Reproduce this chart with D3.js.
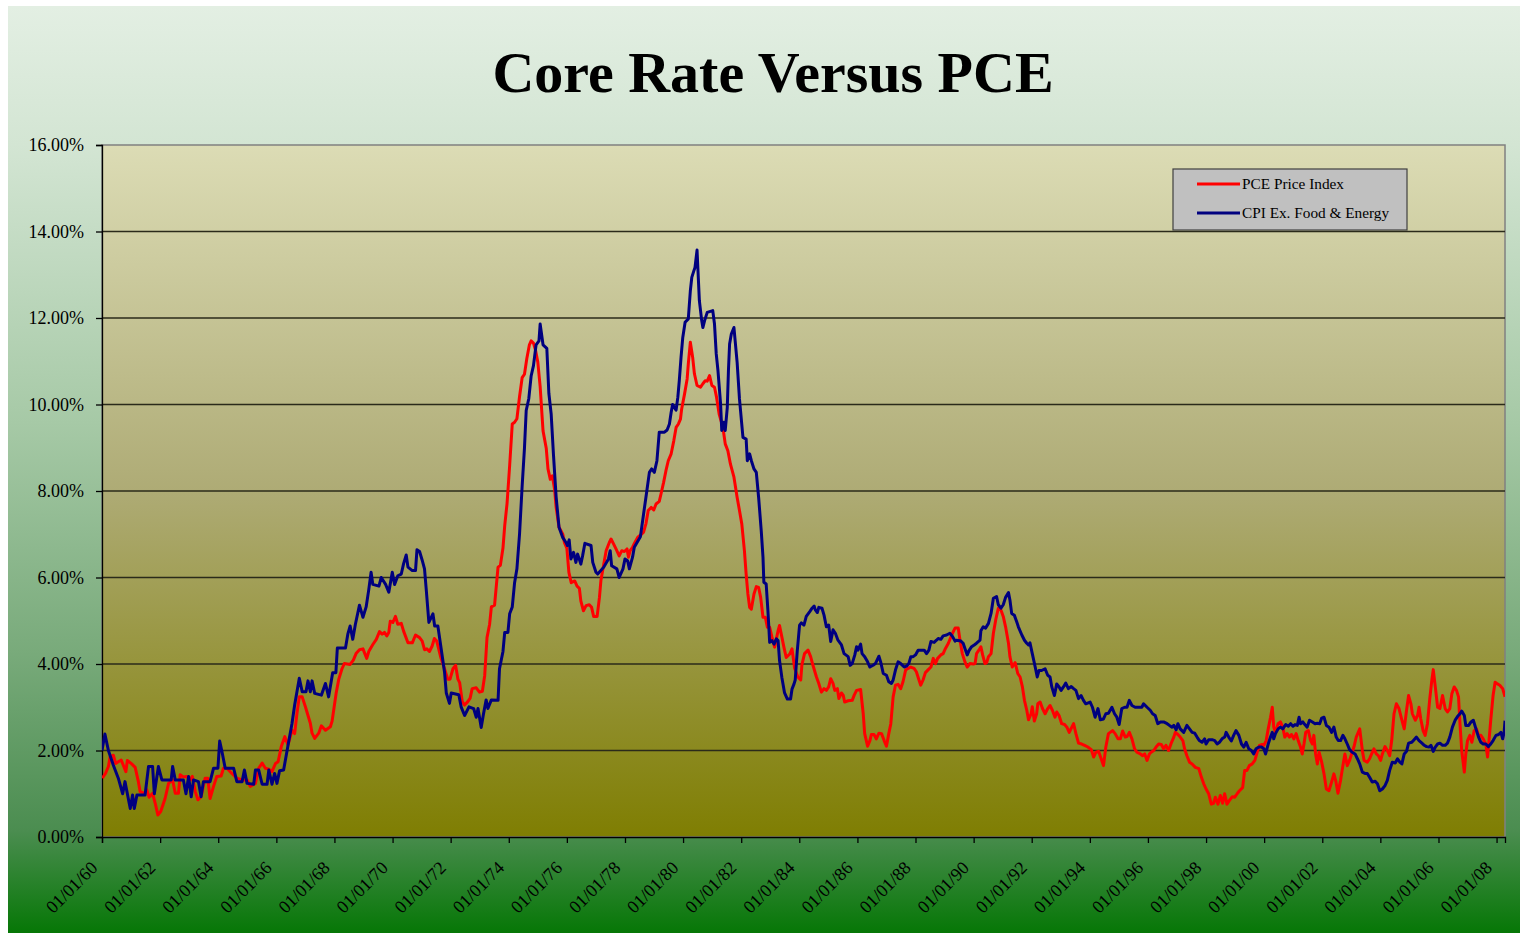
<!DOCTYPE html>
<html>
<head>
<meta charset="utf-8">
<script src="https://cdn.jsdelivr.net/npm/d3@7"></script>
<style>
  html, body { margin: 0; padding: 0; background: #ffffff; }
  svg { display: block; }
  text { font-family: "Liberation Serif", "Times New Roman", serif; fill: #000; }
</style>
</head>
<body>
<svg id="chart" width="1520" height="936"></svg>
<script>
// ---------------- DATA ----------------
const chartTitle = "Core Rate Versus PCE";
const seriesNames = ["PCE Price Index", "CPI Ex. Food & Energy"];
const seriesColors = ["#ff0000", "#000080"];
const yTickValues = [0, 2, 4, 6, 8, 10, 12, 14, 16];
const xTickYears = d3.range(1960, 2009, 2);

// [decimal year, rate %]
const pcePoints = [
[1960.01,1.36],[1960.12,1.47],[1960.22,1.63],[1960.28,1.86],[1960.39,1.89],[1960.47,1.70],[1960.56,1.74],[1960.66,1.78],
[1960.82,1.51],[1960.87,1.77],[1961.02,1.69],[1961.14,1.61],[1961.25,1.28],[1961.31,1.05],[1961.46,1.01],[1961.54,1.09],
[1961.62,0.92],[1961.74,1.01],[1961.83,0.78],[1961.92,0.51],[1962.02,0.59],[1962.17,0.89],[1962.29,1.24],[1962.43,1.32],
[1962.52,1.01],[1962.63,1.01],[1962.69,1.44],[1962.80,1.39],[1962.92,1.40],[1963.03,1.32],[1963.11,1.40],[1963.21,1.05],
[1963.30,0.86],[1963.41,0.93],[1963.55,1.36],[1963.64,1.36],[1963.72,0.89],[1963.84,1.17],[1963.95,1.40],[1964.10,1.41],
[1964.18,1.59],[1964.30,1.59],[1964.47,1.47],[1964.64,1.36],[1964.82,1.32],[1964.99,1.32],[1965.10,1.17],[1965.28,1.24],
[1965.39,1.59],[1965.51,1.71],[1965.62,1.59],[1965.74,1.57],[1965.85,1.51],[1965.97,1.70],[1966.06,1.74],[1966.17,2.09],
[1966.29,2.32],[1966.40,2.13],[1966.54,2.47],[1966.63,2.39],[1966.71,2.86],[1966.79,3.24],[1966.89,3.24],[1967.00,3.01],
[1967.17,2.63],[1967.23,2.40],[1967.32,2.28],[1967.46,2.40],[1967.55,2.57],[1967.69,2.47],[1967.86,2.55],[1967.92,2.68],
[1968.06,3.33],[1968.15,3.65],[1968.26,3.89],[1968.34,4.01],[1968.54,3.99],[1968.65,4.09],[1968.75,4.25],[1968.86,4.33],
[1968.98,4.35],[1969.11,4.13],[1969.18,4.29],[1969.32,4.45],[1969.44,4.57],[1969.55,4.75],[1969.64,4.69],[1969.72,4.73],
[1969.80,4.65],[1969.87,4.73],[1969.92,4.99],[1970.01,4.96],[1970.10,5.10],[1970.18,4.92],[1970.30,4.94],[1970.38,4.76],
[1970.53,4.49],[1970.68,4.49],[1970.79,4.67],[1970.93,4.61],[1971.02,4.53],[1971.10,4.33],[1971.18,4.35],[1971.27,4.29],
[1971.36,4.41],[1971.44,4.59],[1971.52,4.53],[1971.67,4.13],[1971.79,3.89],[1971.90,3.65],[1971.98,3.65],[1972.08,3.89],
[1972.17,3.97],[1972.25,3.65],[1972.31,3.57],[1972.40,3.13],[1972.48,3.05],[1972.59,3.13],[1972.67,3.21],[1972.74,3.43],
[1972.88,3.45],[1972.99,3.35],[1973.09,3.37],[1973.17,3.73],[1973.25,4.61],[1973.34,4.92],[1973.40,5.32],[1973.51,5.36],
[1973.63,6.24],[1973.71,6.28],[1973.80,6.68],[1973.86,7.20],[1973.94,7.71],[1974.03,8.59],[1974.12,9.55],[1974.20,9.59],
[1974.28,9.67],[1974.37,10.18],[1974.46,10.62],[1974.54,10.70],[1974.62,11.06],[1974.71,11.38],[1974.77,11.47],[1974.85,11.42],
[1974.92,11.26],[1975.00,10.98],[1975.08,10.42],[1975.18,9.39],[1975.29,8.99],[1975.35,8.51],[1975.43,8.27],[1975.50,8.35],
[1975.58,8.03],[1975.63,7.63],[1975.73,7.16],[1975.86,7.00],[1975.92,6.80],[1976.00,6.68],[1976.07,6.12],[1976.15,5.88],
[1976.27,5.92],[1976.35,5.80],[1976.43,5.75],[1976.48,5.46],[1976.57,5.23],[1976.66,5.35],[1976.77,5.37],[1976.85,5.31],
[1976.92,5.10],[1977.04,5.10],[1977.12,5.54],[1977.17,5.93],[1977.27,6.31],[1977.35,6.62],[1977.46,6.81],[1977.52,6.89],
[1977.61,6.77],[1977.69,6.66],[1977.80,6.50],[1977.89,6.62],[1977.98,6.60],[1978.07,6.66],[1978.12,6.47],[1978.18,6.62],
[1978.26,6.70],[1978.34,6.81],[1978.44,6.93],[1978.55,6.99],[1978.64,7.05],[1978.72,7.24],[1978.80,7.55],[1978.90,7.62],
[1978.99,7.56],[1979.07,7.70],[1979.18,7.76],[1979.24,7.93],[1979.33,8.20],[1979.41,8.47],[1979.49,8.70],[1979.59,8.86],
[1979.68,9.16],[1979.76,9.47],[1979.84,9.55],[1979.91,9.66],[1979.95,9.89],[1980.05,10.24],[1980.14,10.59],[1980.18,10.94],
[1980.25,11.44],[1980.33,11.09],[1980.39,10.71],[1980.48,10.44],[1980.60,10.40],[1980.68,10.48],[1980.76,10.55],[1980.83,10.54],
[1980.91,10.67],[1980.99,10.44],[1981.08,10.40],[1981.15,10.17],[1981.24,9.78],[1981.37,9.47],[1981.45,9.09],[1981.54,8.93],
[1981.63,8.62],[1981.75,8.32],[1981.86,7.85],[1981.94,7.55],[1982.02,7.24],[1982.11,6.62],[1982.17,6.08],[1982.23,5.62],
[1982.29,5.31],[1982.35,5.27],[1982.44,5.62],[1982.52,5.79],[1982.60,5.77],[1982.67,5.54],[1982.75,5.08],[1982.83,5.08],
[1982.90,4.85],[1982.98,4.85],[1983.06,4.62],[1983.15,4.39],[1983.27,4.77],[1983.32,4.89],[1983.38,4.69],[1983.47,4.39],
[1983.55,4.15],[1983.67,4.23],[1983.75,4.35],[1983.84,3.90],[1983.95,3.70],[1984.05,3.63],[1984.09,3.98],[1984.18,4.24],
[1984.30,4.32],[1984.39,4.17],[1984.47,3.97],[1984.59,3.70],[1984.67,3.55],[1984.76,3.35],[1984.85,3.43],[1984.93,3.39],
[1985.01,3.47],[1985.08,3.66],[1985.16,3.55],[1985.22,3.39],[1985.31,3.43],[1985.36,3.20],[1985.45,3.33],[1985.51,3.28],
[1985.56,3.12],[1985.68,3.15],[1985.82,3.16],[1985.89,3.28],[1985.97,3.39],[1986.11,3.41],[1986.20,2.85],[1986.25,2.39],
[1986.35,2.10],[1986.43,2.23],[1986.48,2.37],[1986.57,2.37],[1986.65,2.27],[1986.74,2.40],[1986.83,2.39],[1986.92,2.23],
[1987.00,2.10],[1987.08,2.39],[1987.15,2.62],[1987.23,3.24],[1987.31,3.51],[1987.40,3.53],[1987.49,3.43],[1987.57,3.59],
[1987.66,3.86],[1987.75,3.90],[1987.84,3.93],[1987.95,3.90],[1988.03,3.82],[1988.12,3.63],[1988.18,3.51],[1988.26,3.63],
[1988.34,3.80],[1988.44,3.87],[1988.53,3.93],[1988.61,4.13],[1988.69,4.01],[1988.76,4.13],[1988.87,4.21],[1988.95,4.24],
[1989.03,4.36],[1989.13,4.48],[1989.22,4.63],[1989.30,4.75],[1989.36,4.83],[1989.47,4.83],[1989.53,4.55],[1989.61,4.24],
[1989.70,4.05],[1989.78,3.93],[1989.87,4.01],[1989.99,4.00],[1990.05,4.01],[1990.10,4.24],[1990.18,4.32],[1990.25,4.40],
[1990.31,4.21],[1990.39,4.01],[1990.45,4.03],[1990.51,4.17],[1990.60,4.24],[1990.68,4.71],[1990.76,5.02],[1990.85,5.29],
[1990.94,5.25],[1991.02,5.10],[1991.10,4.86],[1991.20,4.48],[1991.25,4.17],[1991.33,3.93],[1991.43,4.03],[1991.52,3.78],
[1991.60,3.70],[1991.68,3.47],[1991.75,3.16],[1991.83,2.93],[1991.89,2.71],[1991.98,2.85],[1992.02,3.01],[1992.09,2.68],
[1992.17,2.85],[1992.21,3.08],[1992.29,3.12],[1992.37,2.97],[1992.46,2.85],[1992.55,2.97],[1992.63,3.04],[1992.71,2.93],
[1992.80,2.77],[1992.86,2.89],[1992.94,2.81],[1993.03,2.62],[1993.13,2.60],[1993.21,2.54],[1993.29,2.42],[1993.38,2.54],
[1993.44,2.62],[1993.52,2.39],[1993.61,2.17],[1993.72,2.15],[1993.82,2.12],[1993.93,2.08],[1994.05,2.02],[1994.13,1.85],
[1994.21,1.96],[1994.30,1.98],[1994.39,1.81],[1994.47,1.65],[1994.55,2.08],[1994.64,2.39],[1994.70,2.42],[1994.78,2.46],
[1994.87,2.39],[1994.97,2.27],[1995.05,2.27],[1995.13,2.45],[1995.22,2.31],[1995.28,2.32],[1995.36,2.42],[1995.45,2.27],
[1995.54,2.04],[1995.62,1.96],[1995.74,1.92],[1995.82,1.88],[1995.89,1.92],[1995.97,1.77],[1996.05,1.92],[1996.11,1.96],
[1996.20,2.00],[1996.28,2.08],[1996.37,2.15],[1996.46,2.14],[1996.54,2.04],[1996.62,2.12],[1996.71,2.00],[1996.80,2.17],
[1996.89,2.31],[1996.94,2.42],[1997.03,2.37],[1997.11,2.31],[1997.20,2.23],[1997.26,2.04],[1997.34,1.88],[1997.43,1.73],
[1997.52,1.69],[1997.63,1.61],[1997.75,1.58],[1997.84,1.38],[1997.92,1.23],[1998.00,1.11],[1998.09,1.00],[1998.18,0.76],
[1998.26,0.78],[1998.32,0.92],[1998.41,0.76],[1998.49,0.96],[1998.57,0.78],[1998.64,1.00],[1998.72,0.76],[1998.80,0.84],
[1998.90,0.93],[1998.99,0.92],[1999.07,1.00],[1999.15,1.07],[1999.26,1.14],[1999.33,1.54],[1999.41,1.54],[1999.49,1.65],
[1999.59,1.69],[1999.68,1.77],[1999.76,1.96],[1999.84,2.12],[1999.93,2.14],[1999.99,2.12],[2000.07,2.23],[2000.14,2.50],
[2000.22,2.77],[2000.28,3.00],[2000.33,2.54],[2000.39,2.42],[2000.48,2.62],[2000.56,2.66],[2000.64,2.54],[2000.71,2.31],
[2000.79,2.39],[2000.87,2.31],[2000.94,2.37],[2001.02,2.27],[2001.10,2.39],[2001.17,2.23],[2001.25,2.08],[2001.31,1.92],
[2001.37,2.15],[2001.43,2.42],[2001.52,2.46],[2001.60,2.23],[2001.66,2.15],[2001.71,2.35],[2001.77,1.92],[2001.83,1.69],
[2001.89,1.96],[2001.98,1.73],[2002.06,1.46],[2002.14,1.11],[2002.23,1.07],[2002.32,1.27],[2002.40,1.46],[2002.46,1.31],
[2002.54,1.01],[2002.63,1.31],[2002.71,1.65],[2002.78,1.92],[2002.86,1.65],[2002.94,1.77],[2003.01,1.92],[2003.09,2.08],
[2003.17,2.31],[2003.29,2.50],[2003.38,2.00],[2003.44,1.77],[2003.55,1.73],[2003.63,1.81],[2003.70,1.92],[2003.78,2.04],
[2003.86,1.92],[2003.93,1.88],[2004.01,1.77],[2004.07,1.92],[2004.16,2.09],[2004.24,2.00],[2004.32,1.88],[2004.39,2.23],
[2004.47,2.85],[2004.55,3.08],[2004.64,2.97],[2004.74,2.70],[2004.82,2.50],[2004.90,2.93],[2004.97,3.27],[2005.05,3.08],
[2005.10,2.85],[2005.20,2.70],[2005.28,2.81],[2005.33,3.00],[2005.39,2.73],[2005.47,2.46],[2005.54,2.35],[2005.62,2.62],
[2005.70,3.20],[2005.77,3.62],[2005.82,3.87],[2005.89,3.47],[2005.97,3.00],[2006.05,2.97],[2006.14,3.27],[2006.23,2.97],
[2006.31,2.89],[2006.39,2.97],[2006.46,3.31],[2006.54,3.47],[2006.62,3.39],[2006.69,3.24],[2006.74,2.62],[2006.80,2.00],
[2006.89,1.50],[2006.94,1.92],[2007.00,2.23],[2007.08,2.35],[2007.15,2.19],[2007.23,2.46],[2007.31,2.50],[2007.38,2.35],
[2007.46,2.35],[2007.54,2.27],[2007.63,2.15],[2007.69,1.85],[2007.75,2.31],[2007.80,2.70],[2007.88,3.27],[2007.95,3.58],
[2008.03,3.54],[2008.11,3.51],[2008.21,3.43],[2008.29,3.24]
];

const cpiPoints = [
[1960.00,2.00],[1960.10,2.38],[1960.22,2.00],[1960.39,1.66],[1960.56,1.36],[1960.71,1.00],[1960.79,1.28],[1960.97,0.66],
[1961.05,0.97],[1961.11,0.66],[1961.20,0.97],[1961.48,0.97],[1961.60,1.63],[1961.74,1.63],[1961.80,1.00],[1961.94,1.63],
[1962.06,1.32],[1962.38,1.32],[1962.43,1.63],[1962.52,1.32],[1962.80,1.32],[1962.89,1.00],[1962.98,1.40],[1963.07,0.93],
[1963.15,1.32],[1963.32,1.28],[1963.41,0.93],[1963.49,1.28],[1963.72,1.28],[1963.84,1.59],[1963.99,1.59],[1964.05,2.22],
[1964.13,1.97],[1964.24,1.59],[1964.53,1.59],[1964.64,1.28],[1964.82,1.28],[1964.90,1.55],[1964.99,1.24],[1965.22,1.22],
[1965.28,1.55],[1965.39,1.55],[1965.51,1.22],[1965.68,1.22],[1965.74,1.55],[1965.85,1.22],[1965.94,1.47],[1966.02,1.24],
[1966.11,1.53],[1966.25,1.55],[1966.37,2.00],[1966.54,2.63],[1966.63,3.05],[1966.79,3.67],[1966.89,3.36],[1967.02,3.36],
[1967.09,3.61],[1967.17,3.36],[1967.23,3.61],[1967.32,3.32],[1967.55,3.28],[1967.69,3.55],[1967.80,3.24],[1967.94,3.80],
[1968.05,3.80],[1968.10,4.37],[1968.38,4.37],[1968.46,4.69],[1968.54,4.88],[1968.63,4.57],[1968.72,4.92],[1968.86,5.36],
[1968.98,5.08],[1969.09,5.32],[1969.18,5.72],[1969.26,6.12],[1969.32,5.84],[1969.53,5.80],[1969.61,6.00],[1969.76,5.84],
[1969.87,5.66],[1969.99,6.12],[1970.07,5.84],[1970.18,6.04],[1970.30,6.08],[1970.38,6.32],[1970.47,6.52],[1970.53,6.24],
[1970.68,6.16],[1970.79,6.16],[1970.84,6.64],[1970.93,6.60],[1971.02,6.40],[1971.10,6.20],[1971.16,5.72],[1971.25,4.96],
[1971.39,5.16],[1971.45,4.88],[1971.56,4.88],[1971.67,4.37],[1971.79,3.81],[1971.85,3.33],[1971.96,3.09],[1972.02,3.33],
[1972.28,3.29],[1972.36,3.01],[1972.48,2.81],[1972.63,3.01],[1972.79,2.97],[1972.88,2.77],[1972.94,2.97],[1973.05,2.53],
[1973.13,2.85],[1973.22,3.17],[1973.28,2.97],[1973.40,3.17],[1973.63,3.16],[1973.68,3.89],[1973.80,4.29],[1973.86,4.73],
[1973.97,4.73],[1974.03,5.16],[1974.12,5.32],[1974.20,5.88],[1974.28,6.20],[1974.37,7.00],[1974.46,8.11],[1974.54,8.99],
[1974.60,9.86],[1974.69,10.14],[1974.77,10.66],[1974.85,10.90],[1974.94,11.38],[1975.04,11.47],[1975.08,11.86],[1975.18,11.38],
[1975.31,11.30],[1975.38,10.26],[1975.46,9.78],[1975.54,8.83],[1975.63,7.87],[1975.73,7.16],[1975.86,6.92],[1975.97,6.81],
[1976.02,6.74],[1976.08,6.87],[1976.14,6.43],[1976.23,6.58],[1976.31,6.35],[1976.37,6.54],[1976.48,6.31],[1976.54,6.50],
[1976.62,6.79],[1976.83,6.74],[1976.89,6.35],[1977.00,6.12],[1977.06,6.08],[1977.27,6.24],[1977.43,6.43],[1977.49,6.62],
[1977.54,6.27],[1977.72,6.20],[1977.80,6.00],[1977.93,6.20],[1978.00,6.43],[1978.09,6.39],[1978.15,6.20],[1978.26,6.47],
[1978.32,6.70],[1978.53,6.94],[1978.64,7.47],[1978.72,7.85],[1978.84,8.43],[1978.92,8.51],[1979.01,8.43],[1979.10,8.70],
[1979.18,9.36],[1979.36,9.36],[1979.45,9.41],[1979.53,9.55],[1979.59,9.82],[1979.64,10.00],[1979.76,9.87],[1979.82,10.17],
[1979.87,10.55],[1979.93,11.09],[1979.99,11.55],[1980.07,11.90],[1980.18,11.98],[1980.25,12.63],[1980.30,12.94],[1980.37,13.09],
[1980.41,13.17],[1980.48,13.57],[1980.56,12.40],[1980.64,11.94],[1980.68,11.78],[1980.74,11.94],[1980.83,12.13],[1981.02,12.17],
[1981.08,11.86],[1981.14,11.17],[1981.20,10.78],[1981.29,10.01],[1981.33,9.40],[1981.40,9.59],[1981.45,9.40],[1981.52,9.93],
[1981.56,10.78],[1981.60,11.40],[1981.66,11.63],[1981.75,11.78],[1981.79,11.48],[1981.86,10.97],[1981.94,10.13],[1982.06,9.24],
[1982.17,9.20],[1982.21,8.70],[1982.29,8.86],[1982.35,8.70],[1982.44,8.51],[1982.52,8.43],[1982.60,7.85],[1982.69,7.08],
[1982.75,6.47],[1982.78,5.89],[1982.86,5.85],[1982.92,5.23],[1982.98,4.50],[1983.06,4.54],[1983.13,4.46],[1983.21,4.58],
[1983.27,4.54],[1983.32,4.08],[1983.40,3.69],[1983.49,3.34],[1983.59,3.19],[1983.70,3.19],[1983.75,3.42],[1983.82,3.54],
[1983.86,3.63],[1983.93,4.30],[1984.01,4.90],[1984.07,4.95],[1984.16,4.90],[1984.24,5.10],[1984.36,5.21],[1984.44,5.29],
[1984.51,5.34],[1984.55,5.25],[1984.62,5.19],[1984.67,5.31],[1984.78,5.29],[1984.85,5.13],[1984.93,4.86],[1985.01,4.90],
[1985.08,4.52],[1985.16,4.79],[1985.24,4.71],[1985.33,4.55],[1985.45,4.44],[1985.54,4.24],[1985.60,4.21],[1985.68,4.17],
[1985.75,3.97],[1985.82,4.01],[1985.91,4.21],[1985.97,4.40],[1986.02,4.32],[1986.11,4.46],[1986.16,4.24],[1986.25,4.17],
[1986.35,4.05],[1986.43,3.93],[1986.54,3.97],[1986.62,4.01],[1986.74,4.18],[1986.80,4.05],[1986.89,3.78],[1987.00,3.74],
[1987.08,3.59],[1987.17,3.55],[1987.23,3.63],[1987.31,3.86],[1987.40,4.05],[1987.49,4.01],[1987.61,3.93],[1987.69,3.95],
[1987.77,4.01],[1987.84,4.17],[1987.92,4.17],[1988.00,4.21],[1988.09,4.32],[1988.21,4.32],[1988.30,4.32],[1988.38,4.24],
[1988.46,4.32],[1988.53,4.52],[1988.64,4.50],[1988.72,4.55],[1988.78,4.59],[1988.87,4.57],[1988.95,4.65],[1989.07,4.67],
[1989.18,4.71],[1989.26,4.65],[1989.36,4.53],[1989.41,4.55],[1989.56,4.53],[1989.64,4.48],[1989.70,4.36],[1989.78,4.21],
[1989.84,4.31],[1989.93,4.40],[1990.02,4.44],[1990.10,4.48],[1990.22,4.55],[1990.25,4.77],[1990.33,4.86],[1990.41,4.83],
[1990.51,4.94],[1990.60,5.17],[1990.68,5.52],[1990.79,5.56],[1990.85,5.37],[1990.94,5.29],[1991.02,5.37],[1991.10,5.54],
[1991.20,5.65],[1991.25,5.48],[1991.31,5.17],[1991.40,5.13],[1991.48,4.98],[1991.54,4.86],[1991.66,4.67],[1991.75,4.55],
[1991.83,4.48],[1991.89,4.44],[1991.94,4.49],[1992.02,4.24],[1992.12,3.93],[1992.19,3.70],[1992.25,3.85],[1992.34,3.85],
[1992.46,3.89],[1992.55,3.74],[1992.63,3.70],[1992.69,3.47],[1992.78,3.27],[1992.86,3.54],[1992.94,3.47],[1993.01,3.39],
[1993.09,3.47],[1993.17,3.56],[1993.26,3.43],[1993.36,3.48],[1993.44,3.43],[1993.52,3.39],[1993.61,3.20],[1993.70,3.27],
[1993.78,3.16],[1993.86,3.08],[1994.01,3.12],[1994.09,3.00],[1994.18,2.77],[1994.28,2.97],[1994.36,2.71],[1994.47,2.73],
[1994.55,2.85],[1994.64,2.86],[1994.76,3.00],[1994.85,2.85],[1994.93,2.77],[1995.01,2.60],[1995.10,2.97],[1995.20,3.00],
[1995.28,3.00],[1995.36,3.16],[1995.45,3.04],[1995.56,3.00],[1995.68,3.00],[1995.79,3.00],[1995.85,3.08],[1995.97,3.00],
[1996.08,2.93],[1996.16,2.85],[1996.25,2.81],[1996.34,2.62],[1996.43,2.66],[1996.54,2.66],[1996.66,2.62],[1996.74,2.58],
[1996.83,2.54],[1996.89,2.58],[1996.97,2.48],[1997.03,2.62],[1997.11,2.50],[1997.23,2.42],[1997.34,2.58],[1997.43,2.50],
[1997.52,2.42],[1997.61,2.40],[1997.69,2.31],[1997.77,2.23],[1997.86,2.19],[1997.95,2.27],[1998.00,2.15],[1998.09,2.25],
[1998.21,2.25],[1998.30,2.23],[1998.38,2.15],[1998.46,2.19],[1998.55,2.27],[1998.64,2.31],[1998.69,2.42],[1998.78,2.31],
[1998.87,2.22],[1998.95,2.35],[1999.03,2.46],[1999.13,2.35],[1999.22,2.15],[1999.30,2.08],[1999.38,2.19],[1999.47,2.04],
[1999.56,2.00],[1999.64,1.92],[1999.72,2.04],[1999.82,2.08],[1999.91,2.08],[1999.99,2.04],[2000.05,1.92],[2000.14,2.15],
[2000.22,2.31],[2000.28,2.42],[2000.33,2.27],[2000.39,2.39],[2000.48,2.50],[2000.56,2.54],[2000.64,2.50],[2000.74,2.60],
[2000.83,2.56],[2000.91,2.62],[2000.99,2.56],[2001.06,2.60],[2001.14,2.58],[2001.20,2.77],[2001.25,2.62],[2001.33,2.66],
[2001.40,2.60],[2001.48,2.54],[2001.56,2.70],[2001.66,2.66],[2001.75,2.62],[2001.83,2.63],[2001.91,2.62],[2001.98,2.75],
[2002.06,2.77],[2002.14,2.58],[2002.23,2.54],[2002.32,2.42],[2002.40,2.54],[2002.48,2.31],[2002.55,2.23],[2002.63,2.23],
[2002.71,2.35],[2002.78,2.27],[2002.86,2.15],[2002.94,2.02],[2003.03,1.96],[2003.13,1.92],[2003.21,1.81],[2003.29,1.69],
[2003.38,1.50],[2003.47,1.47],[2003.55,1.47],[2003.63,1.38],[2003.72,1.27],[2003.82,1.29],[2003.90,1.23],[2003.98,1.07],
[2004.07,1.11],[2004.16,1.19],[2004.24,1.31],[2004.32,1.54],[2004.41,1.73],[2004.51,1.71],[2004.59,1.81],[2004.67,1.73],
[2004.74,1.69],[2004.82,1.92],[2004.90,1.98],[2004.97,2.17],[2005.08,2.19],[2005.16,2.25],[2005.24,2.31],[2005.33,2.23],
[2005.43,2.17],[2005.51,2.12],[2005.59,2.09],[2005.68,2.08],[2005.74,2.12],[2005.82,1.98],[2005.89,2.08],[2005.97,2.15],
[2006.05,2.17],[2006.14,2.12],[2006.23,2.12],[2006.31,2.17],[2006.39,2.31],[2006.48,2.54],[2006.58,2.71],[2006.66,2.79],
[2006.74,2.85],[2006.80,2.91],[2006.89,2.81],[2006.94,2.58],[2007.04,2.58],[2007.12,2.66],[2007.20,2.70],[2007.29,2.50],
[2007.38,2.31],[2007.46,2.19],[2007.54,2.15],[2007.63,2.15],[2007.72,2.09],[2007.80,2.15],[2007.88,2.23],[2007.98,2.35],
[2008.07,2.37],[2008.15,2.42],[2008.21,2.27],[2008.26,2.42],[2008.29,2.69]
];

// ---------------- CHART ----------------
const W = 1520, H = 936;
const plot = { left: 102, right: 1505, top: 145, bottom: 837 };

function yearToDate(y) {
  const yr = Math.floor(y);
  const s = Date.UTC(yr, 0, 1), e = Date.UTC(yr + 1, 0, 1);
  return new Date(s + (y - yr) * (e - s));
}

const svg = d3.select("#chart");
const defs = svg.append("defs");

const bgGrad = defs.append("linearGradient").attr("id", "bgGrad")
  .attr("x1", 0).attr("y1", 0).attr("x2", 0).attr("y2", 1);
[[0, "#e3efe3"], [0.15, "#d3e5d3"], [0.45, "#a6c9a6"], [0.7, "#78aa7a"], [0.89, "#4b8d50"], [1, "#067706"]]
  .forEach(([o, c]) => bgGrad.append("stop").attr("offset", o).attr("stop-color", c));

const plotGrad = defs.append("linearGradient").attr("id", "plotGrad")
  .attr("x1", 0).attr("y1", 0).attr("x2", 0).attr("y2", 1);
[[0, "#dcdcb5"], [0.5, "#aeab75"], [1, "#7f7e02"]]
  .forEach(([o, c]) => plotGrad.append("stop").attr("offset", o).attr("stop-color", c));

defs.append("clipPath").attr("id", "plotClip").append("rect")
  .attr("x", plot.left).attr("y", plot.top)
  .attr("width", plot.right - plot.left).attr("height", plot.bottom - plot.top);

svg.append("rect").attr("x", 8).attr("y", 6).attr("width", W - 8).attr("height", H - 9)
  .attr("fill", "url(#bgGrad)");

const x = d3.scaleUtc()
  .domain([yearToDate(1960), yearToDate(2008.29)])
  .range([plot.left, plot.right]);
const y = d3.scaleLinear().domain([0, 16]).range([plot.bottom, plot.top]);

// plot area
svg.append("rect").attr("x", plot.left).attr("y", plot.top)
  .attr("width", plot.right - plot.left).attr("height", plot.bottom - plot.top)
  .attr("fill", "url(#plotGrad)").attr("stroke", "#808080").attr("stroke-width", 1.5);

// gridlines
svg.append("g").selectAll("line").data(yTickValues.filter(v => v > 0 && v < 16)).join("line")
  .attr("x1", plot.left).attr("x2", plot.right)
  .attr("y1", d => y(d)).attr("y2", d => y(d))
  .attr("stroke", "#2a2a1a").attr("stroke-width", 1.3);

// Y axis
const yAxis = d3.axisLeft(y).tickValues(yTickValues).tickSize(6).tickPadding(12)
  .tickFormat(d => d.toFixed(2) + "%");
const gy = svg.append("g").attr("transform", `translate(${plot.left},0)`).call(yAxis);
gy.select(".domain").attr("stroke", "#000").attr("stroke-width", 1.3);
gy.selectAll(".tick line").attr("stroke", "#000").attr("stroke-width", 1.3);
gy.selectAll(".tick text").attr("font-size", 18).attr("fill", "#000")
  .style("font-family", '"Liberation Serif", "Times New Roman", serif');

// X axis
const fmt = d3.utcFormat("%m/%d/%y");
const xAxis = d3.axisBottom(x).tickValues(xTickYears.map(yearToDate)).tickSize(6).tickFormat(fmt);
const gx = svg.append("g").attr("transform", `translate(0,${plot.bottom})`).call(xAxis);
gx.select(".domain").attr("stroke", "#000").attr("stroke-width", 1.3);
gx.selectAll(".tick line").attr("stroke", "#000").attr("stroke-width", 1.3);
gx.selectAll(".tick text")
  .attr("font-size", 18).attr("fill", "#000")
  .style("font-family", '"Liberation Serif", "Times New Roman", serif')
  .attr("text-anchor", "end")
  .attr("dy", null).attr("y", 0)
  .attr("transform", "translate(-4,32) rotate(-45)");

// lines
const line = d3.line()
  .x(d => x(yearToDate(d[0])))
  .y(d => y(d[1]))
  .curve(d3.curveLinear);

const lines = svg.append("g").attr("clip-path", "url(#plotClip)");
lines.append("path").datum(pcePoints)
  .attr("fill", "none").attr("stroke", seriesColors[0]).attr("stroke-width", 3)
  .attr("stroke-linejoin", "round").attr("d", line);
lines.append("path").datum(cpiPoints)
  .attr("fill", "none").attr("stroke", seriesColors[1]).attr("stroke-width", 3)
  .attr("stroke-linejoin", "round").attr("d", line);

// Title
svg.append("text").attr("x", 773).attr("y", 92).attr("text-anchor", "middle")
  .attr("font-size", 58).attr("font-weight", "bold").text(chartTitle);

// Legend
const lg = svg.append("g").attr("transform", "translate(1173,169)");
lg.append("rect").attr("width", 234).attr("height", 61)
  .attr("fill", "#c0c0c0").attr("stroke", "#404040").attr("stroke-width", 1.2);
const legendRows = [0, 1];
lg.selectAll("line.key").data(legendRows).join("line").attr("class", "key")
  .attr("x1", 24).attr("x2", 67)
  .attr("y1", d => 15 + d * 29).attr("y2", d => 15 + d * 29)
  .attr("stroke", d => seriesColors[d]).attr("stroke-width", 3);
lg.selectAll("text").data(legendRows).join("text")
  .attr("x", 69).attr("y", d => 20 + d * 29)
  .attr("font-size", 15.3)
  .text(d => seriesNames[d]);
</script>
</body>
</html>
